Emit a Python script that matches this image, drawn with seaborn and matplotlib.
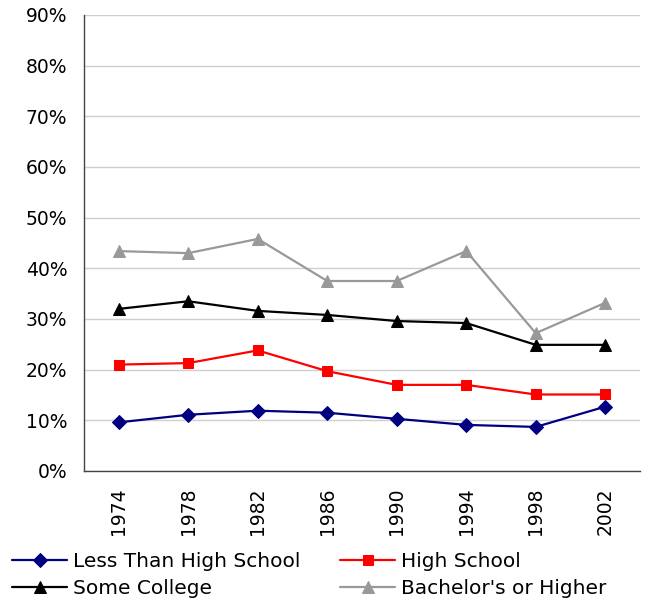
import matplotlib
matplotlib.use("Agg")
import matplotlib.pyplot as plt
import seaborn as sns
import pandas as pd
import numpy as np
from matplotlib.ticker import FixedLocator, PercentFormatter

years = ["1974", "1978", "1982", "1986", "1990", "1994", "1998", "2002"]
less_than_hs = [9.6, 11.1, 11.9, 11.5, 10.3, 9.1, 8.7, 12.7]
high_school = [21.0, 21.3, 23.8, 19.7, 17.0, 17.0, 15.1, 15.1]
some_college = [32.0, 33.5, 31.6, 30.8, 29.6, 29.2, 24.9, 24.9]
bachelors = [43.4, 43.0, 45.8, 37.5, 37.5, 43.4, 27.2, 33.2]

series_names = ["Less Than High School", "High School", "Some College", "Bachelor's or Higher"]
series_values = [less_than_hs, high_school, some_college, bachelors]
colors = ["#000080", "#FF0000", "#000000", "#999999"]
markers = ["D", "s", "^", "^"]
msizes = [7.5, 7.8, 8.8, 8.8]

sns.set_style("white")
plt.rcParams['font.family'] = ['DejaVu Sans']
plt.rcParams['text.color'] = 'black'
plt.rcParams['xtick.color'] = 'black'
plt.rcParams['ytick.color'] = 'black'

W, H = 649, 603
fig = plt.figure(figsize=(W / 100, H / 100), dpi=100)
ax = fig.add_axes([84/W, 1-471/H, (640-84)/W, (471-15)/H])

for name, vals, c, m, ms in zip(series_names, series_values, colors, markers, msizes):
    df = pd.DataFrame({"pos": np.arange(len(years)), "val": vals})
    sns.lineplot(data=df, x="pos", y="val", ax=ax, color=c, marker=m, markersize=ms,
                 markeredgecolor=c, linewidth=1.6, label=name)

ax.set_xlim(-0.5, len(years) - 0.5)
ax.set_ylim(0, 90)
ax.set_yticks(np.arange(0, 91, 10))
ax.yaxis.set_major_formatter(PercentFormatter(decimals=0))
ax.set_xticks(np.arange(len(years)))
ax.set_xticklabels(years, rotation=90, fontsize=13.5)
ax.xaxis.set_minor_locator(FixedLocator(np.arange(-0.5, len(years), 1)))
ax.tick_params(axis="x", which="major", length=0, pad=12)
ax.tick_params(axis="x", which="minor", length=4, color="#444444", direction="out")
ax.tick_params(axis="y", length=4, color="#444444", direction="out", labelsize=13.5, pad=8)
ax.set_xlabel("")
ax.set_ylabel("")
ax.grid(axis="y", color="#cfcfcf", linewidth=1)
ax.set_axisbelow(True)
for s in ["top", "right"]:
    ax.spines[s].set_visible(False)
for s in ["left", "bottom"]:
    ax.spines[s].set_color("#444444")
    ax.spines[s].set_linewidth(1)

ax.legend_.remove()
handles, labels = ax.get_legend_handles_labels()
leg_kw = dict(loc="upper left", frameon=False, fontsize=14.5, handlelength=2.75,
              handletextpad=0.3, labelspacing=0.42, borderpad=0, borderaxespad=0)
leg1 = fig.legend([handles[0], handles[2]], [labels[0], labels[2]],
                  bbox_to_anchor=(12/W, 1-552/H), **leg_kw)
leg2 = fig.legend([handles[1], handles[3]], [labels[1], labels[3]],
                  bbox_to_anchor=(340/W, 1-552/H), **leg_kw)

fig.savefig("out.png", dpi=100)
